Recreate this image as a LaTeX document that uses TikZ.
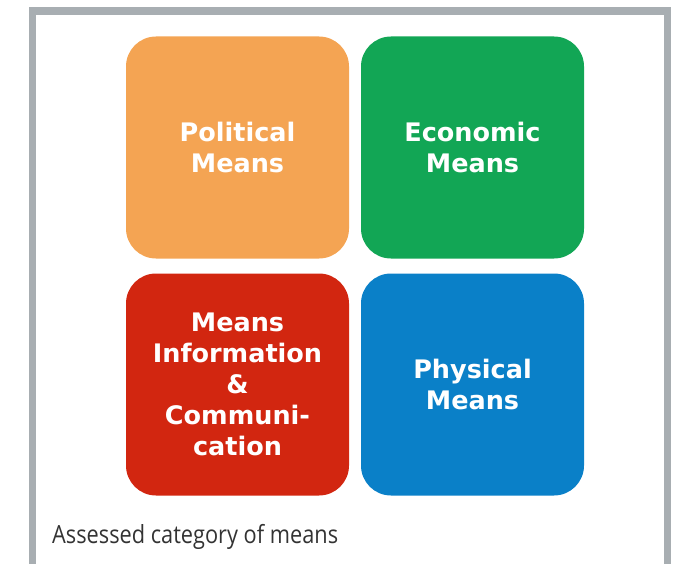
\documentclass[tikz,border=0pt]{standalone}
\usepackage{fontspec}
\usepackage{xcolor}
\usepackage{tikz}
\setmainfont{Open Sans}
\newfontfamily\meansfont{DejaVu Sans}
\newfontfamily\legendfont[FakeStretch=0.87]{Open Sans}
\definecolor{mnorange}{RGB}{244, 164, 83}
\definecolor{mngreen}{RGB}{18, 166, 85}
\definecolor{mnred}{RGB}{210, 38, 16}
\definecolor{mnblue}{RGB}{10, 128, 200}
\definecolor{mnframe}{RGB}{168, 174, 178}
\definecolor{mntext}{RGB}{51, 51, 51}

\begin{document}
\begin{tikzpicture}[x=1pt, y=-1pt,
  meansbox/.style={rounded corners=30pt, minimum width=223pt, minimum height=222pt,
    inner sep=0pt, align=center, text=white,
    font=\meansfont\bfseries\fontsize{25.5}{31}\selectfont}]
% Page size and grey frame (open at the bottom)
\useasboundingbox (0,0) rectangle (674,564);
\draw[mnframe, line width=7.5pt] (32.5,580) -- (32.5,11) -- (667.5,11) -- (667.5,580);

% Top row
\node[meansbox, fill=mnorange] (political) at (237.5,147.5) {Political\\Means};
\node[meansbox, fill=mngreen] (economic) at (472.5,147.5) {Economic\\Means};

% Bottom row
\node[meansbox, fill=mnred] (infocomm) at (237.5,384.5) {Means\\Information\\\&\\Communi-\\cation};
\node[meansbox, fill=mnblue] (physical) at (472.5,384.5) {Physical\\Means};

% Caption
\node[anchor=base west, inner sep=0pt, text=mntext,
  font=\legendfont\fontsize{25}{30}\selectfont] (legend) at (52,543) {Assessed category of means};
\end{tikzpicture}
\end{document}
